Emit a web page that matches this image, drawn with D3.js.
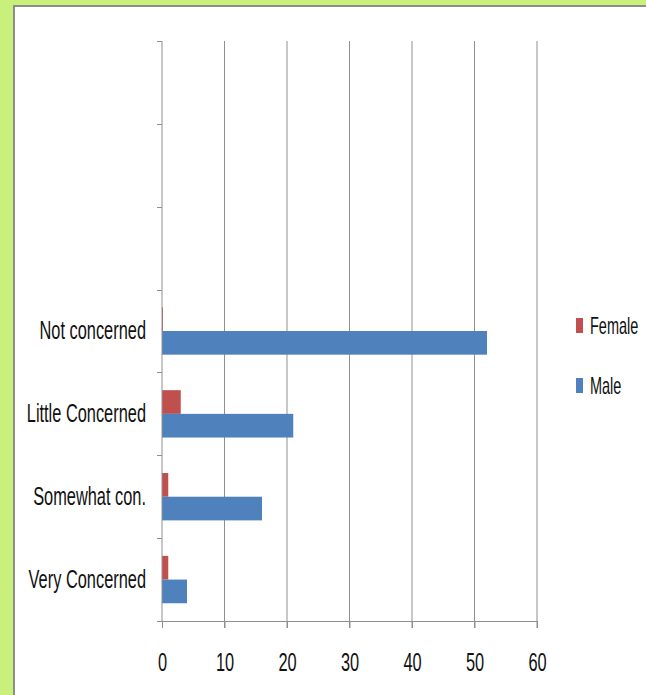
<!DOCTYPE html>
<html>
<head>
<meta charset="utf-8">
<script src="https://cdn.jsdelivr.net/npm/d3@7"></script>
<style>
body { margin: 0; background: #c8f07a; }
svg { display: block; }
text { font-family: "Liberation Sans", Arial, sans-serif; fill: #111111; }
</style>
</head>
<body>
<script>
"use strict";

// categories from bottom to top, the three top slots are empty in the source
var categories = ["Very Concerned", "Somewhat con.", "Little Concerned", "Not concerned", "", " ", "  "];
var series = ["Female", "Male"];
var female = [1, 1, 3, 0.15, null, null, null];
var male = [4, 16, 21, 52, null, null, null];
var xTicks = [0, 10, 20, 30, 40, 50, 60];
var colors = {"Female": "#c0504d", "Male": "#4f81bd"};

var width = 646;
var height = 695;
var squeezeX = 0.63; // the source font is a narrow one

function squeeze(sel) {
    sel.each(function() {
        var t = d3.select(this);
        var x0 = +t.attr("x") || 0;
        t.attr("x", x0 / squeezeX)
            .attr("transform", "scale(" + squeezeX + ",1)");
    });
}

var svg = d3.select("body").append("svg")
    .attr("width", width)
    .attr("height", height);

// white panel with a grey edge
svg.append("rect")
    .attr("x", 13).attr("y", 5)
    .attr("width", width).attr("height", height)
    .attr("fill", "#8c8c8c");
svg.append("rect")
    .attr("x", 15).attr("y", 7)
    .attr("width", width).attr("height", height)
    .attr("fill", "#ffffff");

var plot = {left: 162, right: 537, top: 41, bottom: 621};

var x = d3.scaleLinear().domain([0, 60]).range([plot.left, plot.right]);
var y = d3.scaleBand().domain(categories).range([plot.bottom, plot.top]);
// Excel gap width 150%: two bars + 1.5 bar of gap
var barH = y.bandwidth() / 3.5;

var g = svg.append("g");

// vertical gridlines
g.selectAll("line.grid")
    .data(xTicks.slice(1))
    .enter()
    .append("line")
    .attr("class", "grid")
    .attr("x1", function(d) { return x(d); })
    .attr("x2", function(d) { return x(d); })
    .attr("y1", plot.top)
    .attr("y2", plot.bottom + 7)
    .attr("stroke", "#8f8f8f")
    .attr("stroke-width", 1);

// bars
var rows = categories.map(function(c, i) {
    return {cat: c, Female: female[i], Male: male[i]};
});
series.forEach(function(s, k) {
    g.selectAll("rect.bar-" + s)
        .data(rows.filter(function(d) { return d[s] != null; }))
        .enter()
        .append("rect")
        .attr("class", "bar-" + s)
        .attr("x", x(0))
        .attr("y", function(d) { return y(d.cat) + barH * 0.75 + k * barH; })
        .attr("width", function(d) { return x(d[s]) - x(0); })
        .attr("height", barH)
        .attr("fill", colors[s]);
});

// y axis
var yAxis = d3.axisLeft(y).tickSize(0).tickPadding(16);
var yG = g.append("g")
    .attr("transform", "translate(" + plot.left + ",0)")
    .call(yAxis);
yG.select(".domain").remove();
yG.selectAll("text")
    .style("font-size", "26px")
    .attr("fill", "#111111")
    .call(squeeze);
yG.append("line")
    .attr("x1", 0).attr("x2", 0)
    .attr("y1", plot.top).attr("y2", plot.bottom)
    .attr("stroke", "#8f8f8f");
// category boundary ticks
yG.selectAll("line.cattick")
    .data(categories)
    .enter()
    .append("line")
    .attr("class", "cattick")
    .attr("x1", -5).attr("x2", 0)
    .attr("y1", function(d) { return Math.round(y(d)) + 0.5; })
    .attr("y2", function(d) { return Math.round(y(d)) + 0.5; })
    .attr("stroke", "#8f8f8f");

// x axis
var xAxis = d3.axisBottom(x).tickValues(xTicks).tickSize(7).tickPadding(25);
var xG = g.append("g")
    .attr("transform", "translate(0," + plot.bottom + ")")
    .call(xAxis);
xG.select(".domain")
    .attr("d", "M" + (plot.left - 5) + ",0.5H" + plot.right)
    .attr("stroke", "#8f8f8f");
xG.selectAll(".tick line").attr("stroke", "#8f8f8f");
xG.selectAll("text")
    .style("font-size", "26px")
    .attr("fill", "#111111")
    .call(squeeze);

// legend
var legend = svg.append("g")
    .selectAll("g")
    .data(series)
    .enter()
    .append("g")
    .attr("transform", function(d, i) { return "translate(576," + (318 + i * 60) + ")"; });
legend.append("rect")
    .attr("width", 7).attr("height", 15)
    .attr("fill", function(d) { return colors[d]; });
legend.append("text")
    .attr("x", 14).attr("y", 16)
    .style("font-size", "23px")
    .text(function(d) { return d; })
    .call(squeeze);
</script>
</body>
</html>
